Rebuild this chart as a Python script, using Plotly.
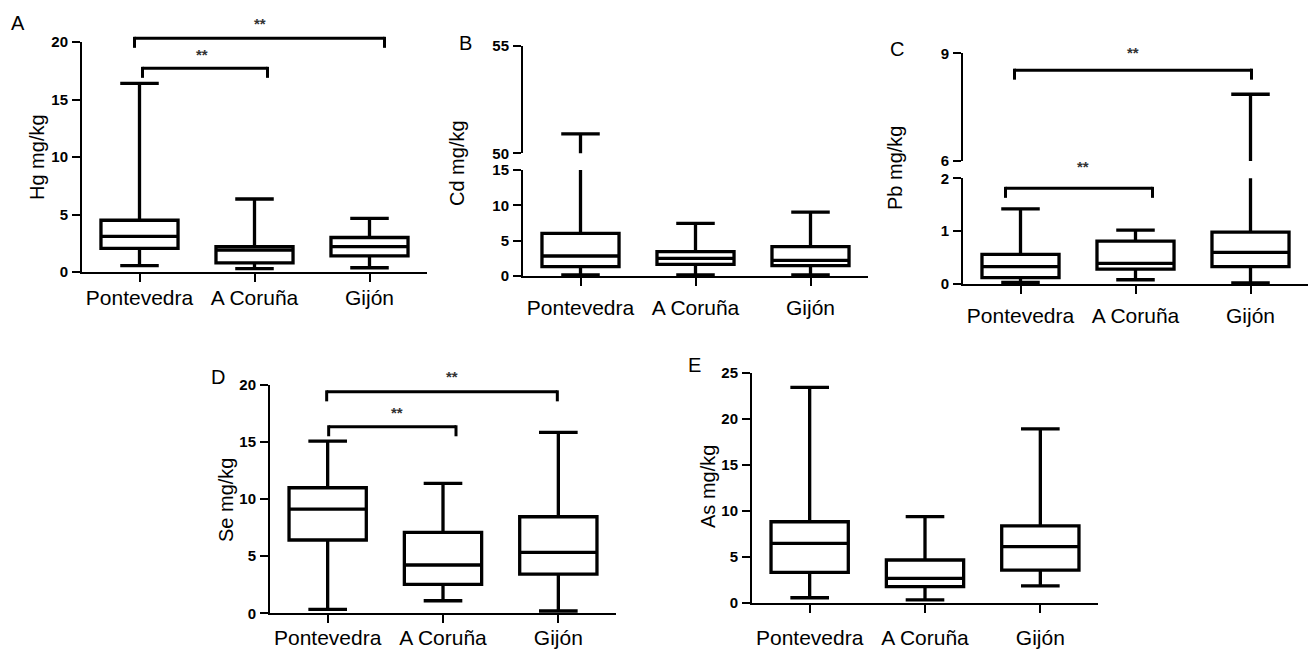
import plotly.graph_objects as go

W, H = 1311, 649

categories = ["Pontevedra", "A Coruña", "Gijón"]

# Hg (panel A)
hg_min = [0.55, 0.30, 0.37]
hg_q1 = [2.05, 0.80, 1.40]
hg_med = [3.10, 1.90, 2.20]
hg_q3 = [4.50, 2.20, 3.00]
hg_max = [16.4, 6.35, 4.67]
hg_ticks = [0, 5, 10, 15, 20]

# Cd (panel B, broken axis)
cd_min = [0.15, 0.15, 0.15]
cd_q1 = [1.32, 1.65, 1.46]
cd_med = [2.83, 2.50, 2.20]
cd_q3 = [6.04, 3.44, 4.15]
cd_max = [50.9, 7.45, 9.05]
cd_ticks_low = [0, 5, 10, 15]
cd_ticks_high = [50, 55]

# Pb (panel C, broken axis)
pb_min = [0.03, 0.08, 0.02]
pb_q1 = [0.12, 0.28, 0.33]
pb_med = [0.33, 0.39, 0.60]
pb_q3 = [0.56, 0.81, 0.98]
pb_max = [1.42, 1.02, 7.86]
pb_ticks_low = [0, 1, 2]
pb_ticks_high = [6, 9]

# Se (panel D)
se_min = [0.35, 1.10, 0.20]
se_q1 = [6.42, 2.54, 3.44]
se_med = [9.13, 4.23, 5.34]
se_q3 = [11.0, 7.09, 8.46]
se_max = [15.09, 11.38, 15.85]
se_ticks = [0, 5, 10, 15, 20]

# As (panel E)
as_min = [0.54, 0.30, 1.82]
as_q1 = [3.30, 1.74, 3.55]
as_med = [6.45, 2.65, 6.09]
as_q3 = [8.80, 4.64, 8.34]
as_max = [23.4, 9.35, 18.9]
as_ticks = [0, 5, 10, 15, 20, 25]

# significance brackets: (left category, right category, level, label)
hg_sig = [(0, 2, 20.32, "**"), (0, 1, 17.71, "**")]
pb_sig_high = [(0, 2, 8.53, "**")]
pb_sig_low = [(0, 1, 1.81, "**")]
se_sig = [(0, 2, 19.40, "**"), (0, 1, 16.34, "**")]

# ---------------- layout / style (pixels) ----------------
FONT = "Liberation Sans, Arial, sans-serif"

# bracket style: (left px offset, right px offset, star px above, star x shift)
hg_sig_style = [(-5, 15, 15, 0), (3, 13, 14, -3)]
pb_sig_high_style = [(-6, 1, 18, 0)]
pb_sig_low_style = [(-15, 17, 22, 4)]
se_sig_style = [(-1, -1, 15, 10), (1, 13, 14, 5)]

panels = [
    dict(letter="A", letter_px=(18, 23), title="Hg mg/kg", title_px=(37, 157),
         stats=(hg_min, hg_q1, hg_med, hg_q3, hg_max), x_px=(82, 427), label_off=-2,
         segs=[dict(py=(42, 272), rng=(0, 20), ticks=hg_ticks, sig=hg_sig, sty=hg_sig_style)]),
    dict(letter="B", letter_px=(465, 43), title="Cd mg/kg", title_px=(457, 163),
         stats=(cd_min, cd_q1, cd_med, cd_q3, cd_max), x_px=(523, 868), label_off=4,
         segs=[dict(py=(170, 276), rng=(0, 15), ticks=cd_ticks_low, sig=[], sty=[]),
               dict(py=(45.7, 153.3), rng=(50, 55), ticks=cd_ticks_high, sig=[], sty=[])]),
    dict(letter="C", letter_px=(897, 49), title="Pb mg/kg", title_px=(895, 168),
         stats=(pb_min, pb_q1, pb_med, pb_q3, pb_max), x_px=(963, 1308), label_off=4,
         segs=[dict(py=(178.3, 284), rng=(0, 2), ticks=pb_ticks_low, sig=pb_sig_low, sty=pb_sig_low_style),
               dict(py=(53.3, 161), rng=(6, 9), ticks=pb_ticks_high, sig=pb_sig_high, sty=pb_sig_high_style)]),
    dict(letter="D", letter_px=(218, 377), title="Se mg/kg", title_px=(226, 500),
         stats=(se_min, se_q1, se_med, se_q3, se_max), x_px=(270, 616), label_off=-4,
         segs=[dict(py=(385, 613.3), rng=(0, 20), ticks=se_ticks, sig=se_sig, sty=se_sig_style)]),
    dict(letter="E", letter_px=(694, 365), title="As mg/kg", title_px=(708, 487),
         stats=(as_min, as_q1, as_med, as_q3, as_max), x_px=(752, 1098), label_off=7,
         segs=[dict(py=(372.7, 602.7), rng=(0, 25), ticks=as_ticks, sig=[], sty=[])]),
]

fig = go.Figure()
shapes = []
annotations = []
layout = {}
n = 0
XR = [-0.5, 2.5]

for p in panels:
    mn, q1, med, q3, mx = p["stats"]
    xl, xr = p["x_px"]
    unit_px = (xr - xl) / (XR[1] - XR[0])
    for si, s in enumerate(p["segs"]):
        n += 1
        sfx = "" if n == 1 else str(n)
        xa, ya = "x" + sfx, "y" + sfx
        top, bot = s["py"]
        r0, r1 = s["rng"]
        seg_h = bot - top
        layout["xaxis" + sfx] = dict(
            domain=[xl / W, xr / W], anchor=ya, type="category",
            categoryorder="array", categoryarray=categories, range=XR,
            showline=True, linecolor="black", linewidth=2,
            ticks="outside", ticklen=8, tickwidth=2, tickcolor="black",
            showgrid=False, zeroline=False, fixedrange=True, automargin=False,
            tickfont=dict(family=FONT, size=21, color="black"),
            ticklabelstandoff=p["label_off"],
            visible=(si == 0),
        )
        layout["yaxis" + sfx] = dict(
            domain=[1 - bot / H, 1 - top / H], anchor=xa, range=[r0, r1],
            tickmode="array", tickvals=s["ticks"],
            ticktext=["<b>%g</b>" % t for t in s["ticks"]],
            showline=True, linecolor="black", linewidth=2,
            ticks="outside", ticklen=8, tickwidth=2, tickcolor="black",
            showgrid=False, zeroline=False, fixedrange=True, automargin=False,
            tickfont=dict(family=FONT, size=15, color="black"),
            ticklabelstandoff=1,
        )
        fig.add_trace(go.Box(
            x=categories, q1=q1, median=med, q3=q3, lowerfence=mn, upperfence=mx,
            xaxis=xa, yaxis=ya, boxpoints=False, width=0.67, whiskerwidth=0.5,
            fillcolor="white", line=dict(color="black", width=3.3),
            showlegend=False, hoverinfo="skip",
        ))

        def dom(v):
            return (v - r0) / (r1 - r0)

        for (li, ri, lvl, lab), (dl, dr, star_up, star_dx) in zip(s["sig"], s["sty"]):
            x0 = li + dl / unit_px
            x1 = ri + dr / unit_px
            yd = dom(lvl)
            drop = 9.5 / seg_h
            ln = dict(color="black", width=3)
            shapes.append(dict(type="line", xref=xa, yref=ya + " domain",
                               x0=x0, x1=x1, y0=yd, y1=yd, line=ln))
            shapes.append(dict(type="line", xref=xa, yref=ya + " domain",
                               x0=x0, x1=x0, y0=yd + 1.5 / seg_h, y1=yd - drop, line=ln))
            shapes.append(dict(type="line", xref=xa, yref=ya + " domain",
                               x0=x1, x1=x1, y0=yd + 1.5 / seg_h, y1=yd - drop, line=ln))
            paper_y = (1 - bot / H) + yd * (seg_h / H) + star_up / H
            annotations.append(dict(
                xref=xa, yref="paper", x=(x0 + x1) / 2, y=paper_y, text="<b>%s</b>" % lab,
                showarrow=False, xshift=star_dx, yanchor="middle", xanchor="center",
                font=dict(family=FONT, size=15, color="#333333"),
            ))

    lx, ly = p["letter_px"]
    annotations.append(dict(xref="paper", yref="paper", x=lx / W, y=1 - ly / H,
                            text=p["letter"], showarrow=False, xanchor="center", yanchor="middle",
                            font=dict(family=FONT, size=20, color="black")))
    tx, ty = p["title_px"]
    annotations.append(dict(xref="paper", yref="paper", x=tx / W, y=1 - ty / H,
                            text=p["title"], showarrow=False, textangle=-90,
                            xanchor="center", yanchor="middle",
                            font=dict(family=FONT, size=20, color="black")))

fig.update_layout(
    width=W, height=H, autosize=False, margin=dict(l=0, r=0, t=0, b=0, pad=0, autoexpand=False),
    paper_bgcolor="white", plot_bgcolor="white",
    shapes=shapes, annotations=annotations, showlegend=False,
    **layout,
)

fig.write_html("out.html")
